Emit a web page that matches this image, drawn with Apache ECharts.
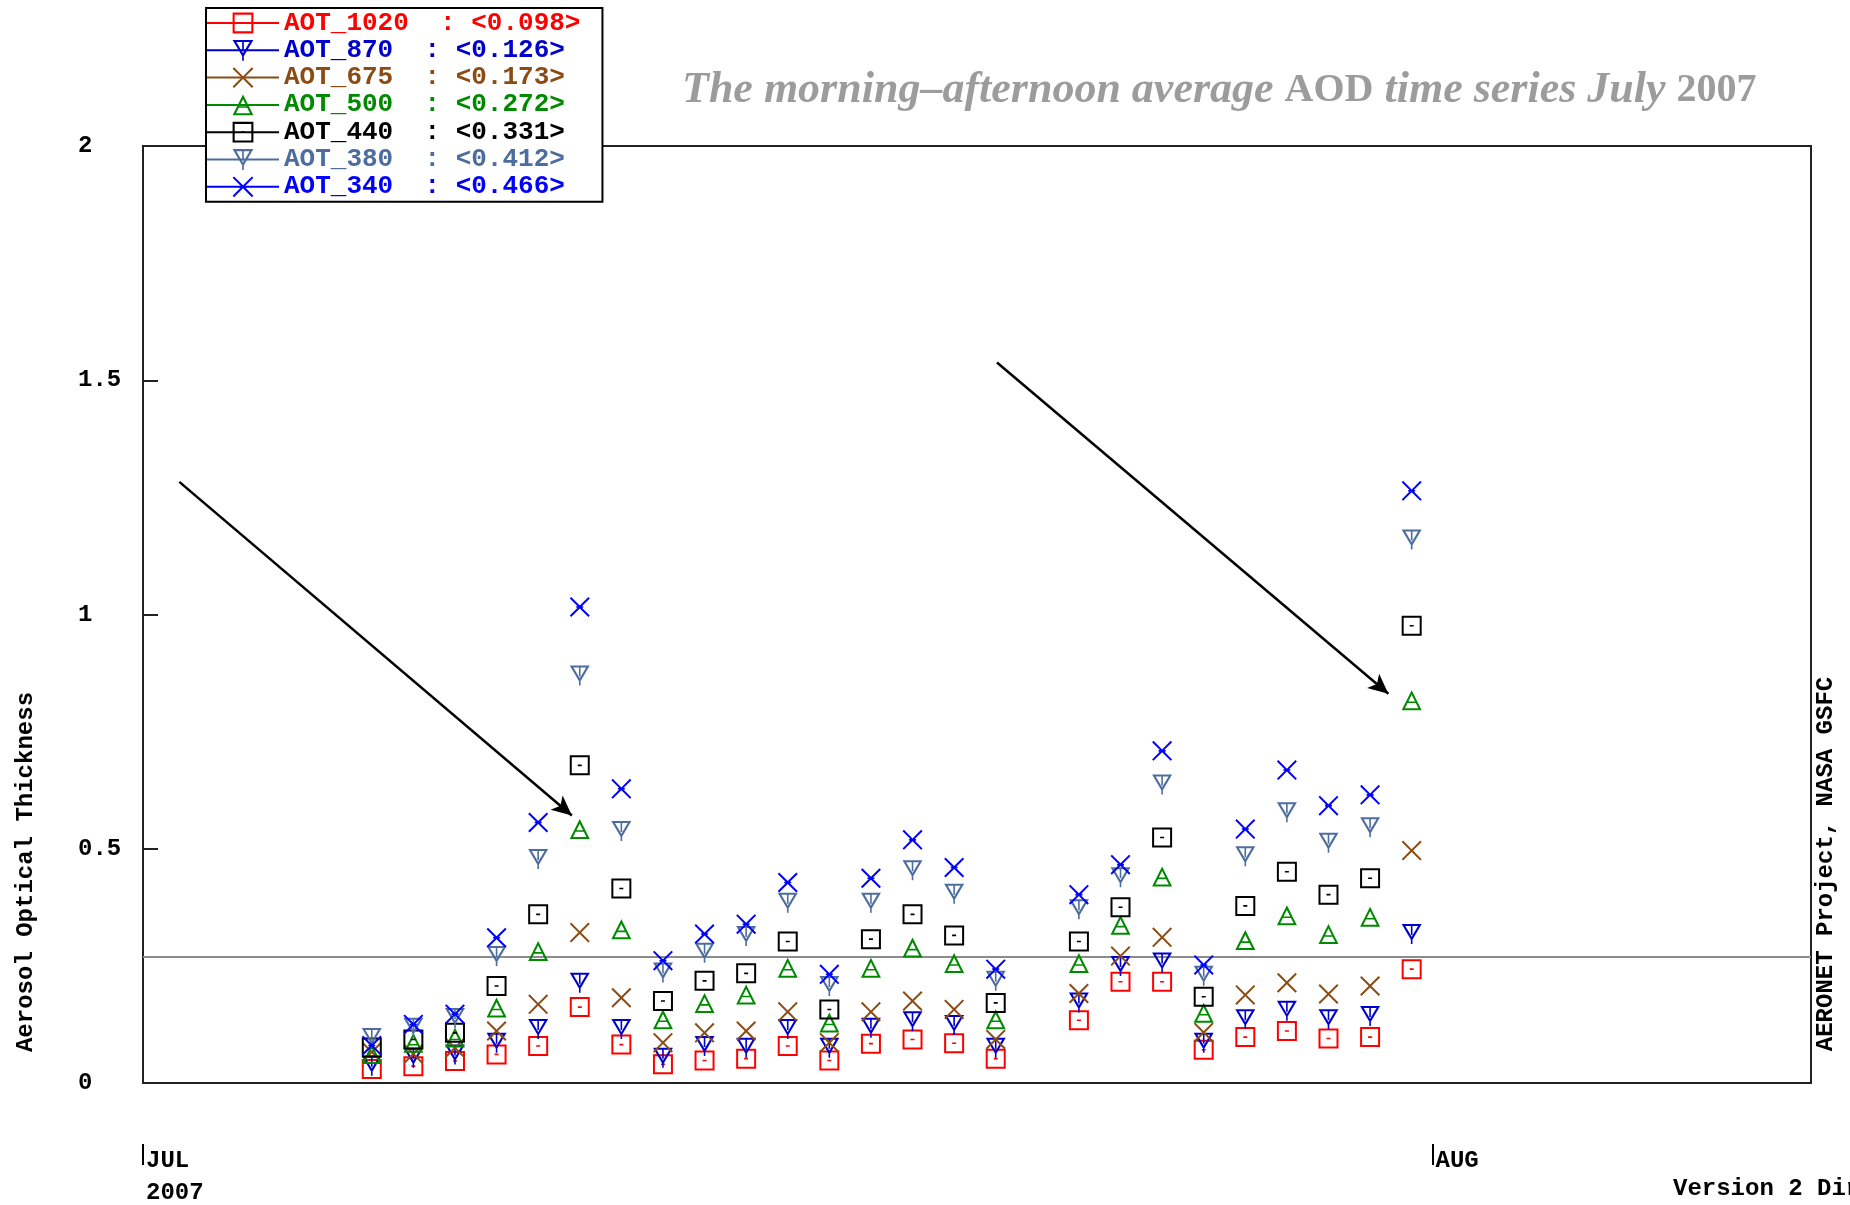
<!DOCTYPE html>
<html>
<head>
<meta charset="utf-8">
<title>AOD time series July 2007</title>
<script src="https://cdn.jsdelivr.net/npm/echarts@6/dist/echarts.min.js"></script>
<style>
  html, body { margin: 0; padding: 0; background: #fff; }
  #chart { width: 1850px; height: 1205px; }
</style>
</head>
<body>
<div id="chart"></div>
<script>
// Day of July for each morning–afternoon average (no data on the 22nd)
const days = [6, 7, 8, 9, 10, 11, 12, 13, 14, 15, 16, 17, 18, 19, 20, 21, 23, 24, 25, 26, 27, 28, 29, 30, 31];

// Aerosol optical thickness per wavelength
const aot1020 = [0.030, 0.036, 0.047, 0.061, 0.079, 0.162, 0.082, 0.040, 0.048, 0.052, 0.079, 0.048, 0.084, 0.093, 0.085, 0.052, 0.134, 0.216, 0.216, 0.071, 0.098, 0.111, 0.095, 0.098, 0.243];
const aot870  = [0.037, 0.054, 0.061, 0.086, 0.115, 0.214, 0.115, 0.054, 0.079, 0.075, 0.115, 0.075, 0.118, 0.132, 0.124, 0.075, 0.172, 0.250, 0.257, 0.086, 0.136, 0.154, 0.136, 0.143, 0.318];
const aot675  = [0.066, 0.062, 0.075, 0.111, 0.168, 0.321, 0.182, 0.086, 0.107, 0.111, 0.152, 0.086, 0.152, 0.175, 0.157, 0.093, 0.191, 0.271, 0.311, 0.108, 0.188, 0.214, 0.190, 0.207, 0.496];
const aot500  = [0.062, 0.086, 0.097, 0.161, 0.282, 0.542, 0.328, 0.136, 0.171, 0.189, 0.246, 0.129, 0.246, 0.289, 0.256, 0.136, 0.256, 0.338, 0.441, 0.150, 0.305, 0.358, 0.318, 0.355, 0.817];
const aot440  = [0.076, 0.093, 0.107, 0.207, 0.360, 0.678, 0.415, 0.175, 0.218, 0.234, 0.302, 0.157, 0.307, 0.360, 0.315, 0.171, 0.302, 0.375, 0.524, 0.184, 0.378, 0.451, 0.402, 0.437, 0.976];
const aot380  = [0.096, 0.118, 0.139, 0.271, 0.478, 0.870, 0.538, 0.236, 0.278, 0.314, 0.385, 0.207, 0.385, 0.454, 0.404, 0.218, 0.371, 0.439, 0.637, 0.229, 0.484, 0.578, 0.513, 0.546, 1.160];
const aot340  = [0.080, 0.125, 0.147, 0.310, 0.556, 1.016, 0.628, 0.261, 0.318, 0.339, 0.428, 0.232, 0.437, 0.519, 0.460, 0.243, 0.402, 0.466, 0.709, 0.252, 0.542, 0.668, 0.592, 0.615, 1.264];

// Legend entries and their monthly means
const seriesNames  = ['AOT_1020', 'AOT_870', 'AOT_675', 'AOT_500', 'AOT_440', 'AOT_380', 'AOT_340'];
const seriesMeans  = [0.098, 0.126, 0.173, 0.272, 0.331, 0.412, 0.466];
const seriesValues = [aot1020, aot870, aot675, aot500, aot440, aot380, aot340];

// Month tick labels (days since 1 July)
const monthTicks  = [0, 31];
const monthLabels = ['JUL\n2007', 'AUG'];
const yTicks = [0, 0.5, 1, 1.5, 2];

// Annotation arrows, in [days since 1 July, AOT]
const arrowPaths = [
  [[0.873, 1.283], [10.31, 0.571]],
  [[20.53, 1.538], [29.94, 0.831]]
];

const seriesColors = ['#ff0000', '#0000cc', '#8b4c13', '#008a00', '#000000', '#4d6d9e', '#0000ff'];

// Marker outlines (filled ring paths so they render as open symbols)
const SYM_SQUARE = 'path://M0 0H20V20H0Z M2 2V18H18V2Z M8 9.2H12V10.8H8Z';
const SYM_CROSS  = 'path://M0 1.4L1.4 0L10 8.6L18.6 0L20 1.4L11.4 10L20 18.6L18.6 20L10 11.4L1.4 20L0 18.6L8.6 10Z';
const SYM_CROSS_BAR = SYM_CROSS + ' M6.5 9.2H13.5V10.8H6.5Z';
const SYM_DOWN   = 'path://M0 0H20L10 17Z M3.6 2L10 12.8L16.4 2Z M9.2 13H10.8V20H9.2Z M9.2 2H10.8V11H9.2Z';
const SYM_UP     = 'path://M10 0L20 20L0 20Z M10 4.6L3.3 18L16.7 18Z M5.5 11.2H14.5V12.8H5.5Z';
const seriesSymbols = [SYM_SQUARE, SYM_DOWN, SYM_CROSS, SYM_UP, SYM_SQUARE, SYM_DOWN, SYM_CROSS_BAR];

const MONO = 'Liberation Mono';
const chart = echarts.init(document.getElementById('chart'), null, { renderer: 'canvas' });

const xMax = 40.1;

const series = seriesNames.map((name, i) => ({
  name: name,
  type: 'line',
  color: seriesColors[i],
  data: days.map((d, k) => [d - 0.5, seriesValues[i][k]]),
  symbol: seriesSymbols[i],
  symbolSize: 20,
  showSymbol: true,
  showAllSymbol: true,
  lineStyle: { width: 0, opacity: 0, color: seriesColors[i] },
  itemStyle: { color: seriesColors[i] },
  emphasis: { disabled: true },
  silent: true,
  animation: false,
  z: 3,
  markLine: name === 'AOT_500' ? {
    silent: true,
    symbol: 'none',
    label: { show: false },
    lineStyle: { color: '#8c8c8c', width: 2, type: 'solid' },
    data: [{ yAxis: seriesMeans[i] }],
    animation: false,
    z: 1
  } : undefined
}));

// Arrows drawn in data space
series.push({
  name: 'arrows',
  type: 'line',
  data: [],
  silent: true,
  animation: false,
  markLine: {
    silent: true,
    symbol: ['none', 'arrow'],
    symbolSize: [14, 20],
    label: { show: false },
    lineStyle: { color: '#000', width: 2.5, type: 'solid' },
    data: arrowPaths.map(p => [{ coord: p[0] }, { coord: p[1] }]),
    animation: false
  }
});

const option = {
  backgroundColor: '#fff',
  animation: false,
  title: {
    text: '{i|The morning–afternoon average }{u|AOD}{i| time series July }{u|2007}',
    left: 677,
    top: 64,
    textStyle: {
      rich: {
        i: { fontFamily: 'Liberation Serif', fontStyle: 'italic', fontSize: 44, color: '#9c9c9c' },
        u: { fontFamily: 'Liberation Serif', fontSize: 40, color: '#9c9c9c' }
      }
    }
  },
  legend: {
    orient: 'vertical',
    left: 206,
    top: 8,
    data: seriesNames.map((n, i) => ({ name: n, textStyle: { color: seriesColors[i] } })),
    formatter: name => {
      const i = seriesNames.indexOf(name);
      return name + '  : <' + seriesMeans[i].toFixed(3) + '>';
    },
    itemWidth: 72,
    itemHeight: 26,
    itemGap: 1.3,
    padding: [2, 22, 2, 0],
    backgroundColor: '#fff',
    borderColor: '#000',
    borderWidth: 2,
    borderRadius: 0,
    selectedMode: false,
    lineStyle: { width: 2, opacity: 1 },
    textStyle: { fontFamily: MONO, fontWeight: 'bold', fontSize: 26 },
    z: 10
  },
  grid: {
    left: 143, right: 39, top: 146, bottom: 122,
    show: true, borderColor: '#222', borderWidth: 2,
    containLabel: false,
    outerBoundsMode: 'none'
  },
  xAxis: [
    {
      type: 'value', min: 0, max: xMax,
      axisLine: { show: true, lineStyle: { color: '#222', width: 2 } },
      axisTick: { show: false },
      axisLabel: { show: false },
      splitLine: { show: false }
    },
    {
      type: 'value', min: 0, max: xMax, position: 'bottom', offset: 61,
      axisLine: { show: false },
      axisTick: { show: true, inside: false, length: 21, customValues: monthTicks, lineStyle: { color: '#000', width: 2 } },
      axisLabel: {
        show: true, customValues: monthTicks, align: 'left', margin: 1,
        padding: [0, 0, 0, 3],
        fontFamily: MONO, fontWeight: 'bold', fontSize: 24, color: '#000', lineHeight: 32,
        formatter: v => monthLabels[monthTicks.indexOf(v)] || ''
      },
      splitLine: { show: false }
    }
  ],
  yAxis: {
    type: 'value', min: 0, max: 2, interval: 0.5,
    axisLine: { show: true, lineStyle: { color: '#222', width: 2 } },
    axisTick: { show: true, inside: true, length: 15, lineStyle: { color: '#222', width: 2 } },
    axisLabel: {
      align: 'left', margin: 65,
      fontFamily: MONO, fontWeight: 'bold', fontSize: 24, color: '#000',
      formatter: v => (yTicks.indexOf(v) >= 0 ? String(v) : '')
    },
    splitLine: { show: false }
  },
  graphic: [
    {
      type: 'text', x: 26, y: 872, rotation: Math.PI / 2,
      style: { text: 'Aerosol Optical Thickness', fontFamily: MONO, fontWeight: 'bold', fontSize: 24, fill: '#000', align: 'center', verticalAlign: 'middle' }
    },
    {
      type: 'text', x: 1826, y: 864, rotation: Math.PI / 2,
      style: { text: 'AERONET Project, NASA GSFC', fontFamily: MONO, fontWeight: 'bold', fontSize: 24, fill: '#000', align: 'center', verticalAlign: 'middle' }
    },
    {
      type: 'text', x: 1673, y: 1189,
      style: { text: 'Version 2 Direct Sun Algorithm', fontFamily: MONO, fontWeight: 'bold', fontSize: 24, fill: '#000', align: 'left', verticalAlign: 'middle' }
    }
  ],
  series: series
};

chart.setOption(option);
</script>
</body>
</html>
